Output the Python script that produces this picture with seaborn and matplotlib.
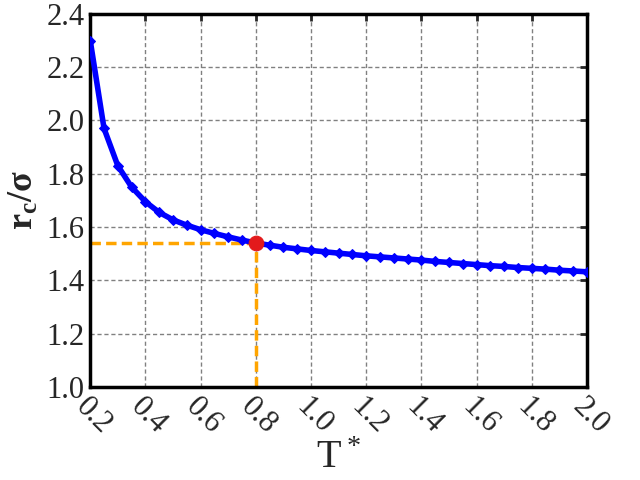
import numpy as np
import pandas as pd
import matplotlib
matplotlib.use("Agg")
import matplotlib.pyplot as plt
import seaborn as sns

# reduced temperature vs cutoff radius
t_star = [0.20, 0.25, 0.30, 0.35, 0.40, 0.45, 0.50, 0.55, 0.60, 0.65,
          0.70, 0.75, 0.80, 0.85, 0.90, 0.95, 1.00, 1.05, 1.10, 1.15,
          1.20, 1.25, 1.30, 1.35, 1.40, 1.45, 1.50, 1.55, 1.60, 1.65,
          1.70, 1.75, 1.80, 1.85, 1.90, 1.95, 2.00]
rc_sigma = [2.300, 1.970, 1.830, 1.750, 1.695, 1.655, 1.627, 1.607, 1.590, 1.576,
            1.563, 1.551, 1.540, 1.532, 1.524, 1.518, 1.512, 1.507, 1.502, 1.497,
            1.492, 1.488, 1.484, 1.480, 1.476, 1.471, 1.467, 1.463, 1.459, 1.455,
            1.452, 1.448, 1.445, 1.442, 1.438, 1.435, 1.432]
t_mark = 0.8
rc_mark = 1.54
x_ticks = [0.2, 0.4, 0.6, 0.8, 1.0, 1.2, 1.4, 1.6, 1.8, 2.0]
y_ticks = [1.0, 1.2, 1.4, 1.6, 1.8, 2.0, 2.2, 2.4]

df = pd.DataFrame({"T": t_star, "rc": rc_sigma})

sns.set_style("white")
plt.rcParams["font.family"] = ["Liberation Serif", "DejaVu Serif"]
plt.rcParams["mathtext.fontset"] = "custom"
plt.rcParams["mathtext.rm"] = "Liberation Serif"

fig = plt.figure(figsize=(6.4, 4.8), dpi=100)
ax = fig.add_axes([0.141, 0.194, 0.776, 0.777])

# guide lines to the marked point
ax.plot([x_ticks[0], t_mark], [rc_mark, rc_mark], color="#FFA500", ls=(0, (3, 1.5)), lw=2.5, zorder=2)
ax.plot([t_mark, t_mark], [y_ticks[0], rc_mark], color="#FFA500", ls=(0, (3, 1.5)), lw=2.5, zorder=2)

sns.lineplot(data=df, x="T", y="rc", ax=ax, color="#0000FF", lw=4, marker="D",
             markersize=5, markeredgecolor="#0000FF", zorder=3)
sns.scatterplot(x=[t_mark], y=[rc_mark], ax=ax, color="#E31A1C", s=110,
                edgecolor="#E31A1C", zorder=4)

ax.set_xlim(0.2, 2.0)
ax.set_ylim(1.0, 2.4)
ax.set_xticks(x_ticks)
ax.set_yticks(y_ticks)
ax.set_xticklabels([f"{v:.1f}" for v in x_ticks], rotation=-45, ha="left",
                   va="top", rotation_mode="anchor")
ax.set_yticklabels([f"{v:.1f}" for v in y_ticks])
ax.tick_params(direction="in", length=5, width=2, top=True, right=True,
               labelsize=22, pad=4)
ax.grid(True, color="#808080", ls=(0, (3, 2)), lw=1)
for s in ax.spines.values():
    s.set_linewidth(2.5)
    s.set_color("black")

ax.set_xlabel(r"$\mathregular{T^*}$", fontsize=29, labelpad=0)
ax.set_ylabel(r"$\mathregular{r_c/σ}$", fontsize=26, fontweight="bold", labelpad=4)

plt.savefig("out.png", dpi=100)
